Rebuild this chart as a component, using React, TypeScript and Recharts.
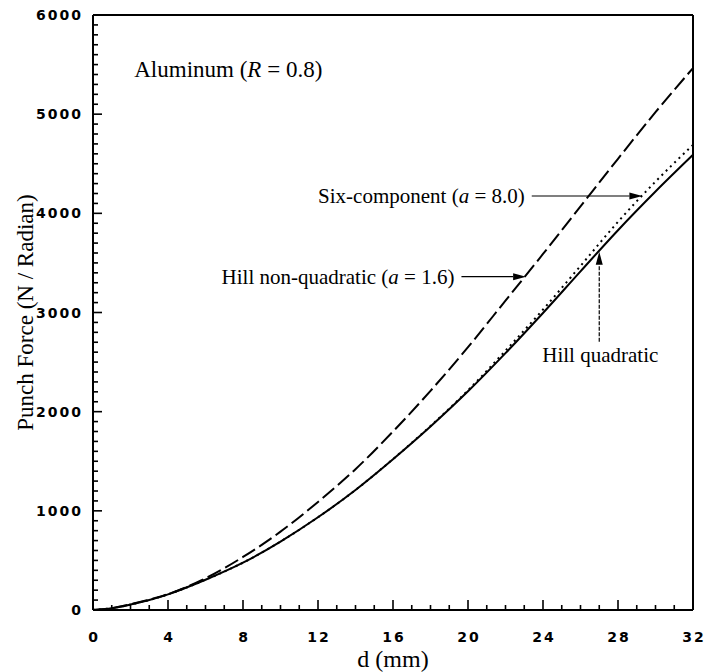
import React from "react";
import { LineChart, Line, XAxis, YAxis, ReferenceLine, ReferenceDot } from "recharts";

// punch displacement d (mm)
const dValues = [0, 1, 2, 3, 4, 6, 8, 10, 12, 14, 16, 18, 20, 22, 24, 26, 28, 30, 32];
// punch force (N / radian) for each yield criterion
const hillQuadratic = [0, 18, 55, 100, 158, 305, 477, 690, 935, 1210, 1520, 1850, 2205, 2590, 2995, 3415, 3830, 4220, 4590];
const sixComponent = [0, 18, 55, 100, 158, 305, 477, 690, 935, 1210, 1522, 1855, 2215, 2615, 3030, 3470, 3915, 4320, 4690];
const hillNonQuadratic = [0, 18, 58, 105, 160, 320, 535, 790, 1090, 1420, 1800, 2210, 2650, 3120, 3590, 4070, 4550, 5020, 5465];

const xMajor = [0, 4, 8, 12, 16, 20, 24, 28, 32];
const yMajor = [0, 1000, 2000, 3000, 4000, 5000, 6000];
const xTicks = Array.from({ length: 33 }, (_, i) => i);
const yTicks = Array.from({ length: 61 }, (_, i) => i * 100);

const data = dValues.map((d, i) => ({
  d,
  quad: hillQuadratic[i],
  six: sixComponent[i],
  nonq: hillNonQuadratic[i],
}));

const serif = "'Liberation Serif', 'Times New Roman', serif";
const tickFont = { fontFamily: "'DejaVu Sans', sans-serif", fontWeight: 700, fontSize: 14, letterSpacing: 2 };

// inward tick marks drawn as thin rects, label only on major ticks
const XTick = (props: any) => {
  const { x, y, payload } = props;
  const major = xMajor.includes(payload.value);
  const len = major ? 10 : 5;
  return (
    <g>
      <rect x={x - 0.8} y={y - len} width={1.6} height={len} fill="#000" stroke="none" />
      {major && (
        <text x={x + 1} y={y + 27} textAnchor="middle" dominantBaseline="central" fill="#000" stroke="none" style={tickFont}>
          {payload.value}
        </text>
      )}
    </g>
  );
};

const YTick = (props: any) => {
  const { x, y, payload } = props;
  const major = yMajor.includes(payload.value);
  const len = major ? 9 : 5;
  return (
    <g>
      <rect x={x} y={y - 0.8} width={len} height={1.6} fill="#000" stroke="none" />
      {major && (
        <text x={x - 10} y={y} textAnchor="end" dominantBaseline="central" fill="#000" stroke="none" style={tickFont}>
          {payload.value}
        </text>
      )}
    </g>
  );
};

// arrow with a text label placed relative to its tail
const makeArrow = (label: React.ReactNode, where: "left" | "below", dashed = false) => (props: any) => {
  const { x1, y1, x2, y2 } = props;
  const a = Math.atan2(y2 - y1, x2 - x1);
  const L = 13;
  const W = 3.5;
  const bx = x2 - L * Math.cos(a);
  const by = y2 - L * Math.sin(a);
  const head = `${x2},${y2} ${bx - W * Math.sin(a)},${by + W * Math.cos(a)} ${bx + W * Math.sin(a)},${by - W * Math.cos(a)}`;
  return (
    <g>
      <line x1={x1} y1={y1} x2={bx} y2={by} stroke="#000" strokeWidth={1.2} strokeDasharray={dashed ? "4 1.5" : undefined} />
      <polygon points={head} fill="#000" />
      {where === "left" ? (
        <text x={x1 - 7} y={y1} textAnchor="end" dominantBaseline="central" fontFamily={serif} fontSize={21} fill="#000">
          {label}
        </text>
      ) : (
        <text x={x1 - 57} y={y1 + 13} textAnchor="start" dominantBaseline="central" fontFamily={serif} fontSize={21} fill="#000">
          {label}
        </text>
      )}
    </g>
  );
};

const sixLabel = (
  <>
    Six-component (<tspan fontStyle="italic">a</tspan> = 8.0)
  </>
);
const nonqLabel = (
  <>
    Hill non-quadratic (<tspan fontStyle="italic">a</tspan> = 1.6)
  </>
);

const MaterialNote = ({ cx, cy }: any) => (
  <text x={cx} y={cy} fontFamily={serif} fontSize={23} fill="#000">
    Aluminum (<tspan fontStyle="italic">R</tspan> = 0.8)
  </text>
);

export default function App() {
  return (
    <div style={{ position: "absolute", left: 0, top: 0, background: "#fff" }}>
      <LineChart width={705} height={672} data={data} margin={{ top: 15, right: 12, bottom: 0, left: 0 }}>
        <XAxis
          dataKey="d"
          type="number"
          domain={[0, 32]}
          ticks={xTicks}
          interval={0}
          tickSize={0}
          tickMargin={0}
          tickLine={false}
          tick={XTick}
          height={62}
          axisLine={{ stroke: "#000", strokeWidth: 2 }}
          label={{
            content: ({ viewBox }: any) => (
              <text x={viewBox.x + viewBox.width / 2} y={viewBox.y + 57} textAnchor="middle" fontFamily={serif} fontSize={24} fill="#000">
                d (mm)
              </text>
            ),
          }}
        />
        <YAxis
          type="number"
          domain={[0, 6000]}
          ticks={yTicks}
          interval={0}
          tickSize={0}
          tickMargin={0}
          tickLine={false}
          tick={YTick}
          width={93}
          axisLine={{ stroke: "#000", strokeWidth: 2 }}
          label={{
            content: ({ viewBox }: any) => {
              const cx = viewBox.x + 25;
              const cy = viewBox.y + viewBox.height / 2;
              return (
                <text transform={`translate(${cx},${cy}) rotate(-90)`} textAnchor="middle" dominantBaseline="central" fontFamily={serif} fontSize={23} fill="#000">
                  Punch Force (N / Radian)
                </text>
              );
            },
          }}
        />
        <ReferenceLine y={6000} stroke="#000" strokeWidth={2} />
        <ReferenceLine x={32} stroke="#000" strokeWidth={2} />

        <Line type="monotone" dataKey="six" stroke="#000" strokeWidth={2} strokeDasharray="2 4" dot={false} isAnimationActive={false} />
        <Line type="monotone" dataKey="quad" stroke="#000" strokeWidth={2} dot={false} isAnimationActive={false} />
        <Line type="monotone" dataKey="nonq" stroke="#000" strokeWidth={2} strokeDasharray="15 5" dot={false} isAnimationActive={false} />

        <ReferenceDot x={2.2} y={5375} r={0} shape={<MaterialNote />} />
        <ReferenceLine segment={[{ x: 23.4, y: 4175 }, { x: 29.3, y: 4175 }]} shape={makeArrow(sixLabel, "left")} />
        <ReferenceLine segment={[{ x: 19.65, y: 3361 }, { x: 23.1, y: 3361 }]} shape={makeArrow(nonqLabel, "left")} />
        <ReferenceLine segment={[{ x: 27.0, y: 2705 }, { x: 27.0, y: 3613 }]} shape={makeArrow("Hill quadratic", "below", true)} />
      </LineChart>
    </div>
  );
}
